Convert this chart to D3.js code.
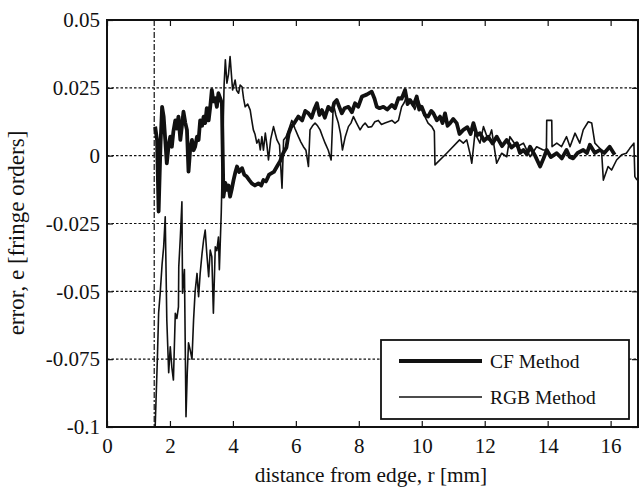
<!DOCTYPE html>
<html>
<head>
<meta charset="utf-8">
<script src="https://cdn.jsdelivr.net/npm/d3@7"></script>
<style>
  body { margin: 0; background: #fff; }
  svg text { font-family: "Liberation Serif", "Times New Roman", Times, "DejaVu Serif", serif; fill: #111; }
</style>
</head>
<body>
<div id="chart"></div>
<script>
// DATA /////////////////////////////////////////////////////////////////////
const xTicks = [0, 2, 4, 6, 8, 10, 12, 14, 16];
const yTicks = [-0.1, -0.075, -0.05, -0.025, 0, 0.025, 0.05];
const yTickLabels = ["-0.1", "-0.075", "-0.05", "-0.025", "0", "0.025", "0.05"];
const edgeR = 1.5;  // dash-dot marker line

// CF Method (thick), [r mm, e fringe orders]
const cfData = [
  [1.53, 0.0107], [1.59, 0.0058], [1.64, -0.0206], [1.70, 0.004], [1.75, 0.018],
  [1.80, 0.0144], [1.85, 0.006], [1.90, -0.0028], [1.96, 0.004], [2.01, 0.007],
  [2.06, 0.0033], [2.11, 0.009], [2.17, 0.013], [2.22, 0.010], [2.27, 0.0144],
  [2.33, 0.0058], [2.38, 0.011], [2.43, 0.0162], [2.49, 0.012], [2.54, 0.0095],
  [2.59, -0.0059], [2.64, 0.002], [2.70, 0.0058], [2.75, 0.002], [2.80, 0.0033],
  [2.86, 0.007], [2.91, 0.0058], [2.96, 0.013], [3.02, 0.011], [3.07, 0.0144],
  [3.12, 0.012], [3.17, 0.0175], [3.23, 0.013], [3.28, 0.018], [3.33, 0.0242],
  [3.38, 0.020], [3.44, 0.0212], [3.49, 0.018], [3.54, 0.023], [3.60, 0.021],
  [3.65, 0.0193], [3.70, -0.0151], [3.76, -0.010], [3.81, -0.0126], [3.86, -0.011],
  [3.91, -0.0151], [3.97, -0.012], [4.02, -0.009], [4.08, -0.006], [4.13, -0.004],
  [4.20, -0.006], [4.29, -0.0046], [4.36, -0.007], [4.44, -0.0077], [4.52, -0.009],
  [4.60, -0.0102], [4.70, -0.011], [4.81, -0.0102], [4.90, -0.011], [4.97, -0.009],
  [5.05, -0.0095], [5.15, -0.007], [5.30, -0.006], [5.40, -0.004], [5.50, -0.002],
  [5.60, 0.001], [5.70, 0.003], [5.77, 0.008], [5.85, 0.0105], [5.95, 0.012],
  [6.08, 0.0144], [6.20, 0.013], [6.30, 0.0165], [6.40, 0.0156], [6.50, 0.014],
  [6.60, 0.0175], [6.67, 0.0193], [6.75, 0.015], [6.83, 0.0168], [6.92, 0.014],
  [7.03, 0.018], [7.15, 0.0165], [7.22, 0.0195], [7.30, 0.0205], [7.38, 0.018],
  [7.46, 0.0156], [7.55, 0.0175], [7.67, 0.018], [7.78, 0.016], [7.88, 0.0193],
  [7.98, 0.018], [8.10, 0.0218], [8.25, 0.0225], [8.41, 0.0236], [8.50, 0.021],
  [8.57, 0.018], [8.66, 0.0175], [8.78, 0.018], [8.90, 0.017], [9.05, 0.0187],
  [9.15, 0.0175], [9.26, 0.0212], [9.36, 0.021], [9.47, 0.0242], [9.55, 0.019],
  [9.63, 0.0205], [9.74, 0.0185], [9.84, 0.0218], [9.92, 0.017], [10.0, 0.018],
  [10.1, 0.015], [10.2, 0.0144], [10.3, 0.0165], [10.37, 0.0156], [10.48, 0.013],
  [10.58, 0.0144], [10.66, 0.012], [10.74, 0.0156], [10.82, 0.011], [10.9, 0.012],
  [11.0, 0.0135], [11.11, 0.012], [11.2, 0.008], [11.32, 0.0095], [11.45, 0.0105],
  [11.55, 0.008], [11.64, 0.012], [11.75, 0.0075], [11.85, 0.0083], [11.98, 0.0055],
  [12.11, 0.007], [12.25, 0.0045], [12.38, 0.007], [12.55, 0.0035], [12.7, 0.0058],
  [12.85, 0.003], [13.02, 0.0046], [13.12, 0.001], [13.23, 0.0021], [13.34, 0.0005],
  [13.44, 0.0033], [13.6, 0.000], [13.76, -0.004], [13.87, -0.001], [13.97, 0.0021],
  [14.1, -0.0005], [14.29, 0.0009], [14.45, -0.001], [14.6, 0.0021], [14.7, -0.0005],
  [14.81, -0.001], [14.95, 0.001], [15.13, 0.0021], [15.25, 0.001], [15.34, 0.004],
  [15.5, 0.001], [15.66, 0.0021], [15.8, 0.001], [15.97, 0.0033], [16.13, 0.0003]
];

// RGB Method (thin), [r mm, e fringe orders]
const rgbData = [
  [1.53, -0.1], [1.60, -0.075], [1.64, -0.058], [1.69, -0.0507], [1.75, -0.040],
  [1.80, -0.0336], [1.85, -0.0225], [1.90, -0.0606], [1.96, -0.080], [2.01, -0.0704],
  [2.06, -0.078], [2.11, -0.0827], [2.17, -0.0581], [2.22, -0.060], [2.27, -0.0557],
  [2.28, -0.041], [2.33, -0.030], [2.38, -0.017], [2.40, -0.0507], [2.46, -0.042],
  [2.51, -0.0962], [2.55, -0.080], [2.59, -0.069], [2.65, -0.072], [2.70, -0.075],
  [2.75, -0.0606], [2.80, -0.050], [2.86, -0.0434], [2.91, -0.052], [2.96, -0.0434],
  [3.02, -0.036], [3.07, -0.031], [3.12, -0.0274], [3.17, -0.036], [3.23, -0.0446],
  [3.28, -0.0348], [3.33, -0.0372], [3.38, -0.0581], [3.44, -0.0336], [3.49, -0.035],
  [3.54, -0.030], [3.57, -0.042], [3.63, -0.021], [3.68, 0.005], [3.72, 0.026],
  [3.76, 0.0353], [3.81, 0.0267], [3.86, 0.030], [3.91, 0.0365], [3.99, 0.0242],
  [4.03, 0.026], [4.07, 0.0279], [4.12, 0.024], [4.18, 0.023], [4.23, 0.026],
  [4.29, 0.0254], [4.34, 0.021], [4.39, 0.018], [4.47, 0.019], [4.55, 0.0168],
  [4.60, 0.013], [4.65, 0.0095], [4.70, 0.008], [4.76, 0.0046], [4.82, 0.006],
  [4.87, 0.0021], [4.92, 0.007], [4.97, 0.002], [5.03, 0.0083], [5.08, 0.004],
  [5.13, -0.0016], [5.20, 0.006], [5.29, 0.0107], [5.35, 0.008], [5.40, 0.0058],
  [5.48, 0.004], [5.56, -0.012], [5.61, 0.0058], [5.69, 0.007], [5.77, 0.0095],
  [5.87, 0.013], [5.97, 0.010], [6.08, 0.007], [6.16, 0.005], [6.24, 0.0033],
  [6.32, 0.002], [6.40, -0.004], [6.45, 0.0095], [6.53, 0.011], [6.61, 0.012],
  [6.69, 0.011], [6.77, 0.0095], [6.85, 0.007], [6.93, 0.0046], [7.03, 0.002],
  [7.12, -0.0016], [7.19, 0.0193], [7.27, 0.015], [7.35, 0.012], [7.42, 0.008],
  [7.48, 0.0021], [7.57, 0.007], [7.67, 0.0107], [7.75, 0.012], [7.83, 0.0144],
  [7.93, 0.012], [8.04, 0.0095], [8.12, 0.011], [8.20, 0.012], [8.30, 0.0105],
  [8.41, 0.0107], [8.51, 0.0125], [8.62, 0.013], [8.72, 0.0115], [8.83, 0.012],
  [8.94, 0.0125], [9.05, 0.013], [9.15, 0.012], [9.26, 0.013], [9.36, 0.018],
  [9.44, 0.0195], [9.52, 0.0218], [9.60, 0.020], [9.68, 0.0193], [9.78, 0.017],
  [9.89, 0.0205], [10.0, 0.017], [10.1, 0.0144], [10.2, 0.012], [10.32, 0.0107],
  [10.40, 0.009], [10.42, -0.0034], [10.8, 0.001], [11.2, 0.0058], [11.32, 0.0046],
  [11.43, 0.0058], [11.53, 0.0009], [11.59, -0.0028], [11.69, 0.0083], [11.85, 0.0046],
  [11.96, 0.0107], [12.11, 0.0058], [12.22, 0.0095], [12.38, -0.0028], [12.54, 0.0009],
  [12.70, -0.0004], [12.80, 0.007], [13.02, 0.0033], [13.23, 0.0046], [13.44, -0.0004],
  [13.65, 0.0033], [13.86, 0.0021], [13.96, 0.0021], [13.97, 0.013], [14.13, 0.013],
  [14.14, 0.0033], [14.29, 0.0046], [14.44, 0.0033], [14.60, 0.007], [14.71, 0.0033],
  [14.87, 0.0083], [15.02, 0.0046], [15.13, 0.0095], [15.29, 0.0125], [15.40, 0.012],
  [15.50, 0.0046], [15.61, 0.0033], [15.71, 0.0021], [15.77, -0.009], [15.92, -0.004],
  [16.03, -0.0053], [16.19, -0.0016], [16.35, 0.0003], [16.50, 0.0009], [16.61, 0.0027],
  [16.74, 0.0046], [16.77, -0.0077], [16.84, -0.009]
];

const FONT = "'Liberation Serif', 'Times New Roman', Times, 'DejaVu Serif', serif";

// CHART ////////////////////////////////////////////////////////////////////
(function() {
    const W = 640, H = 488;
    const left = 107, right = 638, top = 20, bottom = 427;

    const svg = d3.select("#chart").append("svg")
        .attr("width", W)
        .attr("height", H)
        .attr("font-family", FONT);

    const x = d3.scaleLinear().domain([0, 16.87]).range([left, right]);
    const y = d3.scaleLinear().domain([-0.1, 0.05]).range([bottom, top]);

    svg.append("clipPath").attr("id", "plot-clip")
        .append("rect")
        .attr("x", left).attr("y", top)
        .attr("width", right - left).attr("height", bottom - top);

    // Horizontal dotted grid
    svg.append("g").selectAll("line")
        .data(yTicks.slice(1, -1))
        .enter().append("line")
        .attr("x1", left).attr("x2", right)
        .attr("y1", d => y(d)).attr("y2", d => y(d))
        .attr("stroke", "#111")
        .attr("stroke-width", 1.2)
        .attr("stroke-dasharray", "2.5,2");

    // Dash-dot edge marker
    svg.append("line")
        .attr("x1", x(edgeR)).attr("x2", x(edgeR))
        .attr("y1", top).attr("y2", bottom)
        .attr("stroke", "#111")
        .attr("stroke-width", 1.2)
        .attr("stroke-dasharray", "6,2,2,2");

    // Axes (ticks inside the frame)
    const xAxisB = d3.axisBottom(x).tickValues(xTicks).tickSizeInner(-6).tickSizeOuter(0).tickPadding(11);
    const xAxisT = d3.axisTop(x).tickValues(xTicks).tickSizeInner(-6).tickSizeOuter(0).tickFormat("");
    const yAxisL = d3.axisLeft(y).tickValues(yTicks).tickSizeInner(-6).tickSizeOuter(0).tickPadding(7)
        .tickFormat((d, i) => yTickLabels[i]);
    const yAxisR = d3.axisRight(y).tickValues(yTicks).tickSizeInner(-6).tickSizeOuter(0).tickFormat("");

    function styleAxis(g) {
        g.attr("font-family", FONT).attr("font-size", 21);
        g.select(".domain").remove();
        g.selectAll(".tick line").attr("stroke", "#111").attr("stroke-width", 1.2);
        g.selectAll(".tick text").attr("fill", "#111");
    }

    svg.append("g").attr("transform", `translate(0,${bottom})`).call(xAxisB).call(styleAxis);
    svg.append("g").attr("transform", `translate(0,${top})`).call(xAxisT).call(styleAxis);
    svg.append("g").attr("transform", `translate(${left},0)`).call(yAxisL).call(styleAxis);
    svg.append("g").attr("transform", `translate(${right},0)`).call(yAxisR).call(styleAxis);

    // Series
    const line = d3.line().x(d => x(d[0])).y(d => y(d[1]));
    const plot = svg.append("g").attr("clip-path", "url(#plot-clip)");

    plot.append("path")
        .datum(rgbData)
        .attr("d", line)
        .attr("fill", "none")
        .attr("stroke", "#111")
        .attr("stroke-width", 1.6)
        .attr("stroke-linejoin", "round");

    plot.append("path")
        .datum(cfData)
        .attr("d", line)
        .attr("fill", "none")
        .attr("stroke", "#111")
        .attr("stroke-width", 3.8)
        .attr("stroke-linejoin", "round");

    // Frame
    svg.append("rect")
        .attr("x", left).attr("y", top)
        .attr("width", right - left).attr("height", bottom - top)
        .attr("fill", "none")
        .attr("stroke", "#111")
        .attr("stroke-width", 2);

    // Legend
    const lg = svg.append("g");
    lg.append("rect")
        .attr("x", 381).attr("y", 340)
        .attr("width", 248).attr("height", 79)
        .attr("fill", "#fff")
        .attr("stroke", "#111")
        .attr("stroke-width", 1.8);
    const items = [
        { label: "CF Method", w: 4, yy: 361 },
        { label: "RGB Method", w: 1.6, yy: 397 }
    ];
    items.forEach(function(it) {
        lg.append("line")
            .attr("x1", 399).attr("x2", 482)
            .attr("y1", it.yy).attr("y2", it.yy)
            .attr("stroke", "#111")
            .attr("stroke-width", it.w);
        lg.append("text")
            .attr("x", 490).attr("y", it.yy + 7)
            .attr("font-size", 19.5)
            .text(it.label);
    });

    // Axis titles
    svg.append("text")
        .attr("x", 371).attr("y", 482)
        .attr("text-anchor", "middle")
        .attr("font-size", 21.3)
        .text("distance from edge, r [mm]");

    svg.append("text")
        .attr("transform", "translate(24,233) rotate(-90)")
        .attr("text-anchor", "middle")
        .attr("font-size", 23)
        .text("error, e [fringe orders]");
})();
</script>
</body>
</html>
